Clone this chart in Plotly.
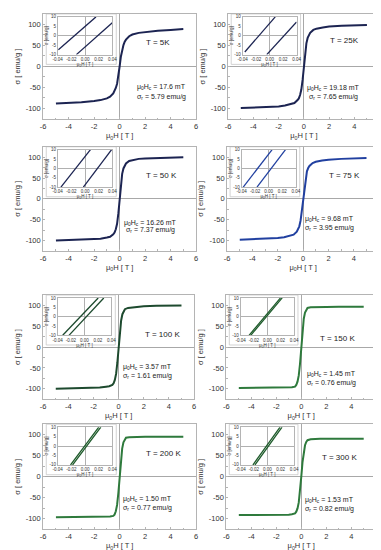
import plotly.graph_objects as go

# ---------------- data ----------------
temps = ["5K", "25K", "50 K", "75 K", "100 K", "150 K", "200 K", "300 K"]
hc_text = ["17.6", "19.18", "16.26", "9.68", "3.57", "1.45", "1.50", "1.53"]
sr_text = ["5.79", "7.65", "7.37", "3.95", "1.61", "0.76", "0.77", "0.82"]

H_main = [-5, -4, -3, -2, -1.5, -1, -0.75, -0.5, -0.4, -0.3, -0.2, -0.1, 0,
          0.1, 0.2, 0.3, 0.4, 0.5, 0.75, 1, 1.5, 2, 3, 4, 5]

s_5K = [-88, -87, -85, -82, -80, -76, -72, -64, -59, -51, -41, -24, 0,
        24, 41, 51, 59, 64, 72, 76, 80, 82, 85, 87, 89]
s_25K = [-99, -98, -97, -95, -93, -90, -87, -80, -76, -68, -55, -32, 0,
         32, 55, 68, 76, 80, 87, 90, 93, 95, 97, 98, 99]
s_50K = [-100, -99, -98, -97, -96, -93, -91, -85, -81, -73, -60, -35, 0,
         35, 60, 73, 81, 85, 91, 93, 96, 97, 98, 99, 100]
s_75K = [-98, -97, -96, -94, -92, -89, -86, -79, -74, -66, -52, -29, 0,
         29, 52, 66, 74, 79, 86, 89, 92, 94, 96, 97, 98]
s_100K = [-100, -99.5, -99, -98, -97, -95, -94, -91, -87, -79, -64, -37, 0,
          37, 64, 79, 87, 91, 94, 95, 97, 98, 99, 99.5, 100]
s_150K = [-98, -98, -98, -97.5, -97.5, -97, -96.5, -95, -91, -83, -68, -40, 0,
          40, 68, 83, 91, 94, 95.5, 96, 96.5, 96.5, 97, 97, 97]
s_200K = [-96, -96, -96, -95.5, -95.5, -95, -94.5, -93, -90, -82, -67, -39, 0,
          39, 67, 82, 90, 93, 94, 94.5, 95, 95, 95, 95, 95]
s_300K = [-91, -91, -91, -90.5, -90.5, -90, -89, -87, -83, -75, -61, -35, 0,
          35, 61, 75, 83, 87, 89, 90, 90.5, 90.5, 90.5, 90.5, 90.5]
sigma_main = [s_5K, s_25K, s_50K, s_75K, s_100K, s_150K, s_200K, s_300K]

# inset branches (end points)
inset_L_H = [[-0.039, 0.016], [-0.0367, 0.0084], [-0.0353, 0.008], [-0.0375, 0.0051],
             [-0.0323, 0.0204], [-0.0273, 0.0197], [-0.0212, 0.0202], [-0.0215, 0.019]]
inset_L_s = [[-7.4, 10], [-8.6, 10], [-10, 10], [-10, 10],
             [-10, 10], [-10, 10], [-10, 10], [-10, 10]]
inset_R_H = [[-0.0127, 0.04], [-0.0042, 0.04], [-0.0024, 0.039], [-0.0172, 0.0248],
             [-0.023, 0.0287], [-0.0248, 0.0222], [-0.0182, 0.0232], [-0.0185, 0.022]]
inset_R_s = [[-10, 6.9], [-10, 7.3], [-10, 10], [-10, 10],
             [-10, 10], [-10, 10], [-10, 10], [-10, 10]]

# annotation positions (data coords)
t_pos = [(3.05, 57), (3.26, 63), (3.3, 57), (3.3, 57), (3.5, 31), (2.9, 21), (3.46, 55), (3.05, 45)]
hc_pos = [(3.26, -49, -72), (2.35, -52, -73), (2.4, -57, -76), (2.1, -48, -69),
          (2.3, -48, -69), (2.4, -64, -86), (2.2, -52, -74), (2.3, -55, -76)]

colors = ["#1c2452", "#1c2452", "#1c2452", "#2140a0",
          "#1d4a2e", "#2e7a3c", "#2e7a3c", "#2e7a3c"]
inset_colors = ["#1c2452", "#1c2452", "#1c2452", "#2140a0",
                "#1d4a2e", "#1d5a2a", "#1d5a2a", "#1d5a2a"]

# ---------------- layout geometry ----------------
rows_y = [(0.800, 0.9927), (0.558, 0.749), (0.286, 0.477), (0.047, 0.240)]
cols_x = [[(0.0814, 0.4934), (0.580, 0.988)],
          [(0.0814, 0.4934), (0.577, 0.987)],
          [(0.0814, 0.4880), (0.575, 0.979)],
          [(0.0814, 0.4934), (0.575, 0.979)]]

FONT = "Liberation Sans, Arial, sans-serif"
fig = go.Figure()
layout = dict(width=381, height=550, margin=dict(l=0, r=0, t=0, b=0),
              paper_bgcolor="white", plot_bgcolor="white", showlegend=False,
              font=dict(family=FONT, color="#333"))
shapes = []
annotations = []

xt_main = [-6, -4, -2, 0, 2, 4, 6]
yt_main = [-100, -50, 0, 50, 100]
xt_in = [-0.04, -0.02, 0, 0.02, 0.04]
xt_in_txt = ["-0.04", "-0.02", "0.00", "0.02", "0.04"]
yt_in = [-10, -5, 0, 5, 10]

frame = "#b4b4b4"
for i in range(8):
    r, c = divmod(i, 2)
    x0, x1 = cols_x[r][c]
    y0, y1 = rows_y[r]
    w, h = x1 - x0, y1 - y0
    k = i + 1
    kn = "" if k == 1 else str(k)
    fig.add_trace(go.Scatter(x=H_main, y=sigma_main[i], mode="lines",
                             line=dict(color=colors[i], width=2),
                             xaxis="x" + kn, yaxis="y" + kn))
    layout["xaxis" + kn] = dict(domain=[x0, x1], anchor="y" + kn, range=[-6, 6],
                                tickvals=xt_main, ticktext=[str(v) for v in xt_main],
                                showline=True, mirror=True, linecolor=frame, linewidth=1,
                                ticks="inside", ticklen=2, tickcolor=frame,
                                minor=dict(ticks="inside", ticklen=1.5, dtick=1, tickcolor=frame),
                                showgrid=False, zeroline=True, zerolinecolor="#a8a8a8",
                                zerolinewidth=1, tickfont=dict(size=7.5, color="#333"),
                                title=dict(text="μ<sub>0</sub>H [ T ]", font=dict(size=7.5, color="#333"),
                                           standoff=0))
    layout["yaxis" + kn] = dict(domain=[y0, y1], anchor="x" + kn, range=[-125, 125],
                                tickvals=yt_main, ticktext=[str(v) for v in yt_main],
                                showline=True, mirror=True, linecolor=frame, linewidth=1,
                                ticks="inside", ticklen=2, tickcolor=frame,
                                minor=dict(ticks="inside", ticklen=1.5, dtick=25, tickcolor=frame),
                                showgrid=False, zeroline=True, zerolinecolor="#a8a8a8",
                                zerolinewidth=1, tickfont=dict(size=7.5, color="#333"),
                                title=dict(text="σ [ emu/g ]", font=dict(size=7.5, color="#333"),
                                           standoff=4))
    # annotations
    tx, ty = t_pos[i]
    annotations.append(dict(x=tx, y=ty, xref="x" + kn, yref="y" + kn, showarrow=False,
                            text="T = " + temps[i], font=dict(size=8, color="#222")))
    hx, hy, sy = hc_pos[i]
    annotations.append(dict(x=hx, y=hy, xref="x" + kn, yref="y" + kn, showarrow=False,
                            text="μ<sub>0</sub>H<sub>c</sub> = " + hc_text[i] + " mT",
                            font=dict(size=7, color="#222")))
    annotations.append(dict(x=hx, y=sy, xref="x" + kn, yref="y" + kn, showarrow=False,
                            text="σ<sub>r</sub> = " + sr_text[i] + " emu/g",
                            font=dict(size=7, color="#222")))
    # inset box
    shapes.append(dict(type="rect", xref="paper", yref="paper",
                       x0=x0 + 0.02 * w, x1=x0 + 0.478 * w, y0=y1 - 0.48 * h, y1=y1,
                       line=dict(color="#c8c8c8", width=0.8), fillcolor="white", layer="below"))
    # inset axes
    j = i + 9
    jn = str(j)
    fig.add_trace(go.Scatter(x=inset_L_H[i], y=inset_L_s[i], mode="lines",
                             line=dict(color=inset_colors[i], width=1.3),
                             xaxis="x" + jn, yaxis="y" + jn))
    fig.add_trace(go.Scatter(x=inset_R_H[i], y=inset_R_s[i], mode="lines",
                             line=dict(color=inset_colors[i], width=1.3),
                             xaxis="x" + jn, yaxis="y" + jn))
    layout["xaxis" + jn] = dict(domain=[x0 + 0.095 * w, x0 + 0.452 * w], anchor="y" + jn,
                                range=[-0.04, 0.04], tickvals=xt_in, ticktext=xt_in_txt,
                                showline=True, mirror=True, linecolor=frame, linewidth=0.8,
                                ticks="", showgrid=False, zeroline=True,
                                zerolinecolor="#b0b0b0", zerolinewidth=0.8,
                                tickfont=dict(size=4.5, color="#333"),
                                title=dict(text="μ<sub>0</sub>H [ T ]", font=dict(size=4.5, color="#333"),
                                           standoff=0))
    layout["yaxis" + jn] = dict(domain=[y1 - 0.387 * h, y1 - 0.028 * h], anchor="x" + jn,
                                range=[-10, 10], tickvals=yt_in, ticktext=[str(v) for v in yt_in],
                                showline=True, mirror=True, linecolor=frame, linewidth=0.8,
                                ticks="", showgrid=False, zeroline=True,
                                zerolinecolor="#b0b0b0", zerolinewidth=0.8,
                                tickfont=dict(size=4.5, color="#333"),
                                title=dict(text="σ [emu/g]", font=dict(size=4.5, color="#333"),
                                           standoff=0))

layout["shapes"] = shapes
layout["annotations"] = annotations
fig.update_layout(**layout)
fig.write_html("out.html")
